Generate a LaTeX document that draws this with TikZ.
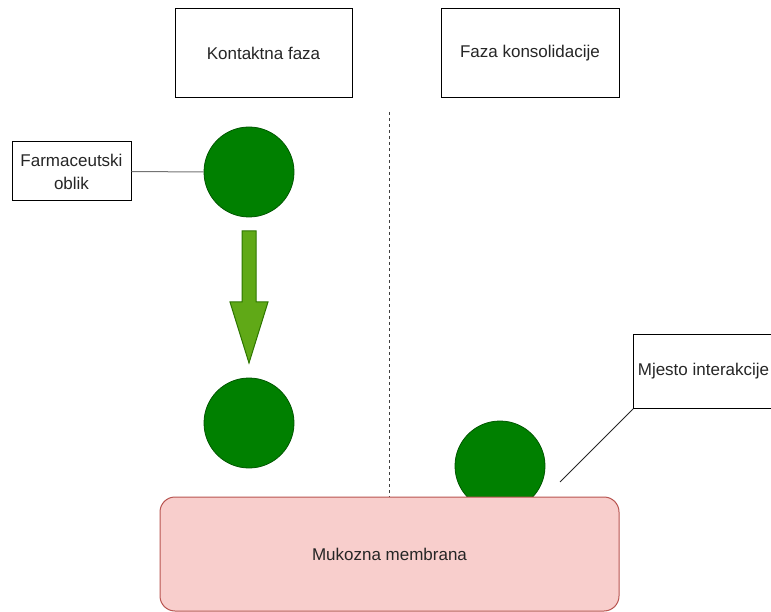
\documentclass[tikz,border=0pt]{standalone}
\usepackage{fontspec}
\setmainfont{Liberation Sans}
\begin{document}
\begin{tikzpicture}[x=1pt,y=-1pt,
  txt/.style={text=black!85, font=\fontsize{17}{23}\selectfont},
  labelbox/.style={draw=black, line width=1pt, fill=white, txt, inner sep=0pt, align=center},
  ball/.style={circle, line width=0.8pt, minimum size=90pt, inner sep=0pt},
  membrane/.style={line width=1pt, rounded corners=15pt},
  conn/.style={line width=1pt}]
\definecolor{arrowfill}{HTML}{60A917}
\definecolor{arrowdraw}{HTML}{2D7600}
\definecolor{memfill}{HTML}{F8CECC}
\definecolor{memdraw}{HTML}{B85450}
\definecolor{ballfill}{HTML}{008000}
\definecolor{balldraw}{HTML}{005700}
\useasboundingbox (0,0) rectangle (771,612);
\clip (0,0) rectangle (771,612);
% phase boxes
\node[labelbox, minimum width=177pt, minimum height=89pt] (kf) at (263.5,53.5) {Kontaktna faza};
\node[labelbox, minimum width=178pt, minimum height=89pt] (fk) at (530,53.5) {Faza konsolidacije};
% dashed separator
\coordinate (dtop) at (389,112);
\coordinate (dbot) at (389,497);
\draw[line width=1pt, black!75, dash pattern=on 3pt off 3pt] (dtop) -- (dbot);
% balls
\node[ball, fill=ballfill, draw=balldraw] (c1) at (249,172) {};
\node[ball, fill=ballfill, draw=balldraw] (c2) at (249,423) {};
\node[ball, fill=ballfill, draw=balldraw] (c3) at (500,466) {};
% block arrow
\draw[fill=arrowfill, draw=arrowdraw, line width=1pt]
  (242,231) -- (256,231) -- (256,302) -- (268,302) -- (249,363) -- (230,302) -- (242,302) -- cycle;
% membrane
\node[membrane, draw=memdraw, fill=memfill, minimum width=459pt, minimum height=114pt, txt] (mm) at (389.5,554) {Mukozna membrana};
% Farmaceutski oblik
\node[labelbox, minimum width=119pt, minimum height=59pt] (fo) at (71.5,171.5) {Farmaceutski\\oblik};
\draw[conn, black!55] (fo.east) -- (c1.west);
% Mjesto interakcije
\node[labelbox, minimum width=140pt, minimum height=74pt, anchor=north west] (mi) at (633,334) {Mjesto interakcije};
\coordinate (mip) at (560,482);
\draw[conn, black!85] (mi.south west) -- (mip);
\end{tikzpicture}
\end{document}
